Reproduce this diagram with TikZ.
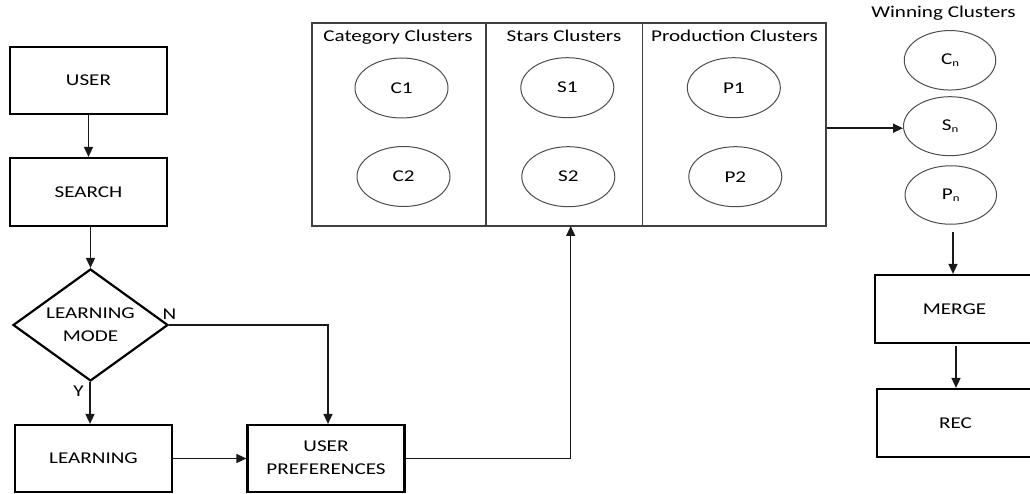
\documentclass[tikz,border=0pt]{standalone}
\usepackage{fontspec}
\setmainfont[FakeStretch=1.28]{Carlito}
\usetikzlibrary{shapes.geometric,arrows.meta}
\begin{document}
\begin{tikzpicture}[x=1pt,y=-1pt,
  every node/.style={font=\fontsize{16.5}{23}\selectfont, text=black},
  flowbox/.style={draw=black, line width=2.2pt, rectangle, inner sep=0pt, minimum width=157pt, minimum height=67pt},
  decbox/.style={draw=black, line width=2.2pt, diamond, aspect=1.38, inner sep=0pt, minimum width=155pt, minimum height=112pt, align=center},
  colbox/.style={draw=black!75, line width=1.4pt, rectangle, inner sep=0pt, minimum height=203pt},
  clus/.style={draw=black!70, line width=1pt, ellipse, inner sep=0pt, minimum width=93pt, minimum height=60pt},
  conn/.style={draw=black!90, line width=1.5pt, -{Triangle[length=10pt,width=9pt]}},
  lbl/.style={inner sep=0pt}
]
\useasboundingbox (0,0) rectangle (1030,494);
\clip (0,0) rectangle (1030,494);

% left flow
\node[flowbox] (user) at (88.5,80.5) {USER};
\node[flowbox, minimum height=68pt] (search) at (88.5,192) {SEARCH};
\node[decbox] (dia) at (90.5,325) {\raisebox{-2pt}{LEARNING}\\\raisebox{-2pt}{MODE}};
\node[flowbox] (learn) at (93.5,458.5) {LEARNING};
\node[flowbox] (up) at (326,458.5) {\raisebox{4pt}{\begin{tabular}{@{}c@{}}USER\\PREFERENCES\end{tabular}}};

% cluster columns
\node[colbox, minimum width=174pt] (cat) at (399,124.5) {};
\node[colbox, minimum width=156.5pt] (stars) at (564.25,124.5) {};
\node[colbox, minimum width=183.5pt] (prod) at (734.25,124.5) {};
\node[lbl, anchor=base] (catT) at (398,42) {Category Clusters};
\node[lbl, anchor=base] (starsT) at (564,42) {Stars Clusters};
\node[lbl, anchor=base] (prodT) at (734.5,42) {Production Clusters};

\node[clus] (c1) at (401.5,88) {C1};
\node[clus] (c2) at (403.5,176.5) {C2};
\node[clus] (s1) at (567.3,87.7) {S1};
\node[clus] (s2) at (568.3,176.7) {S2};
\node[clus] (p1) at (733.8,87.7) {P1};
\node[clus] (p2) at (735.3,176.7) {P2};

% winning clusters
\node[lbl, anchor=base] (winT) at (943.5,17.5) {Winning Clusters};
\node[clus, minimum width=91.5pt, minimum height=59.5pt] (cn) at (950,60.3) {C\raisebox{-2.5pt}{\fontsize{10}{10}\selectfont n}};
\node[clus, minimum width=93pt, minimum height=59pt] (sn) at (950,126.2) {S\raisebox{-2.5pt}{\fontsize{10}{10}\selectfont n}};
\node[clus, minimum width=91.5pt, minimum height=58.5pt] (pn) at (950.8,195) {P\raisebox{-2.5pt}{\fontsize{10}{10}\selectfont n}};

\node[flowbox, minimum width=159pt, minimum height=68pt] (merge) at (954.5,309) {MERGE};
\node[flowbox, minimum height=68pt] (rec) at (955.5,423) {REC};

% labels
\node[lbl] (nlab) at (169.5,314.5) {N};
\node[lbl] (ylab) at (78.5,391) {Y};

% connectors
\draw[conn] (user.south) -- (search.north);
\draw[conn] ([xshift=2pt]search.south) -- ([xshift=2pt]search.south |- dia.north);
\draw[conn] ([xshift=-0.5pt]dia.south) -- ([xshift=-0.5pt]dia.south |- learn.north);
\draw[conn] (dia.east) -| ([xshift=2pt]up.north);
\draw[conn] (learn.east) -- (up.west);
\coordinate (upin) at (570.7,226);
\draw[conn] (up.east) -| (upin);
\draw[conn] (sn.west -| prod.east) ++(0,2) -- ([yshift=-2pt]sn.west);
\coordinate (pnout) at (953,232);
\draw[conn] (pnout) -- (pnout |- merge.north);
\draw[conn] ([xshift=1.5pt,yshift=-2pt]merge.south) -- ([xshift=1.5pt]merge.south |- rec.north);
\end{tikzpicture}
\end{document}
